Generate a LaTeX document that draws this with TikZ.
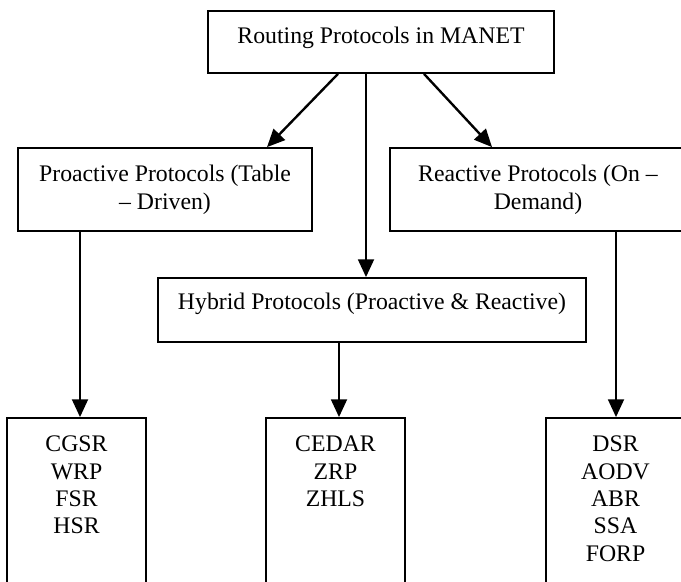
\documentclass[tikz,border=0pt]{standalone}
\usepackage{fontspec}
\setmainfont{Liberation Serif}
\usetikzlibrary{arrows.meta,calc}

\begin{document}
% multi-line labels are anchored on the baseline of their last line
\begin{tikzpicture}[x=0.505pt,y=-0.505pt,
  box/.style={draw, line width=0.9pt, inner sep=0pt, fill=white},
  lbl/.style={inner sep=0pt, anchor=base, align=center,
    font=\fontsize{12pt}{13.8pt}\selectfont},
  arr/.style={line width=1.2pt, -{Triangle[length=9pt,width=8pt]}}]

\useasboundingbox (0,0) rectangle (681,582);
\clip (0,0) rectangle (681,582);

% boxes
\node[box, minimum width=174.7pt, minimum height=31.3pt] (top) at (381,42) {};
\node[box, minimum width=148.5pt, minimum height=41.9pt] (pro) at (165,189.5) {};
\node[box, minimum width=149.5pt, minimum height=41.9pt] (rea) at (538,189.5) {};
\node[box, minimum width=216.1pt, minimum height=32.3pt] (hyb) at (372,310) {};
\node[box, minimum width=70.2pt, minimum height=112.1pt] (leafA) at (76.5,529) {};
\node[box, minimum width=70.2pt, minimum height=112.1pt] (leafB) at (335.5,529) {};
\node[box, minimum width=70.2pt, minimum height=112.1pt] (leafC) at (615.5,529) {};

% texts
\node[lbl] (topT) at (381,44) {Routing Protocols in MANET};
\node[lbl] (proT) at (165,209.3) {Proactive Protocols (Table\\– Driven)};
\node[lbl] (reaT) at (538,209.3) {Reactive Protocols (On –\\Demand)};
\node[lbl] (hybT) at (372,310) {Hybrid Protocols (Proactive \& Reactive)};
\node[lbl] (leafAT) at (76.5,533.9) {CGSR\\WRP\\FSR\\HSR};
\node[lbl] (leafBT) at (335.5,506.6) {CEDAR\\ZRP\\ZHLS};
\node[lbl] (leafCT) at (615.5,561.2) {DSR\\AODV\\ABR\\SSA\\FORP};

% connectors
\draw[arr] ($(top.south)+(-43,0)$) -- ($(pro.north)+(102,0)$);
\draw[arr] ($(top.south)+(43,0)$) -- ($(rea.north)+(-46,0)$);
\draw[arr] ($(top.south)+(-15,0)$) -- ($(hyb.north)+(-6,0)$);
\draw[arr] ($(pro.south)+(-85,0)$) -- ($(leafA.north)+(3.5,0)$);
\draw[arr] ($(hyb.south)+(-33,0)$) -- ($(leafB.north)+(3.5,0)$);
\draw[arr] ($(rea.south)+(78,0)$) -- ($(leafC.north)+(0.5,0)$);
\end{tikzpicture}
\end{document}
